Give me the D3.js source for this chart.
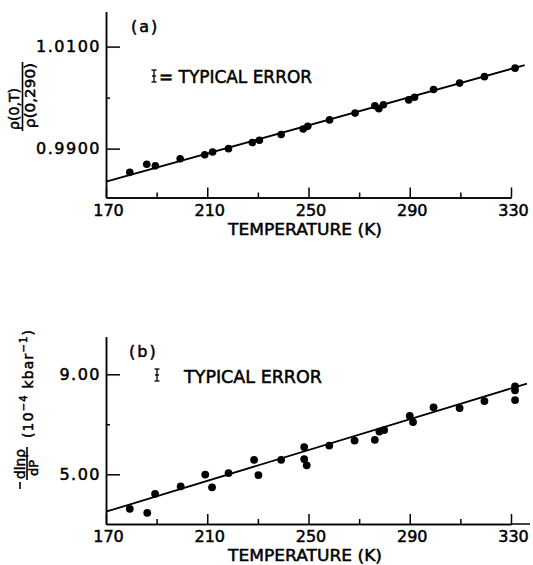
<!DOCTYPE html>
<html>
<head>
<meta charset="utf-8">
<script src="https://cdn.jsdelivr.net/npm/d3@7"></script>
<style>
  body { margin: 0; background: #fff; }
  svg { display: block; font-family: "DejaVu Sans", sans-serif; }
  /* the original lettering is heavier than a plain sans */
  svg text { stroke: #000; stroke-width: 0.5px; }
</style>
</head>
<body>
<svg id="chart" width="533" height="565"></svg>
<script>
// ---- panel (a): rho(0,T) / rho(0,290) vs temperature
const tempA  = [179.4, 186.1, 189.5, 199.3, 209.0, 212.1, 218.4, 227.8, 230.6, 239.2, 247.9, 249.7,
                258.3, 268.4, 276.2, 277.8, 279.6, 289.6, 291.9, 299.4, 309.7, 319.5, 331.6];
const ratioA = [0.98535, 0.98694, 0.98662, 0.98801, 0.98881, 0.98933, 0.99000, 0.99119, 0.99165,
                0.99278, 0.99384, 0.99437, 0.99563, 0.99696, 0.99841, 0.99781, 0.99861, 0.99955,
                1.00006, 1.00159, 1.00284, 1.00411, 1.00577];
const fitA   = [[170, 0.98351], [335.4, 1.00636]];

// ---- panel (b): -dln(rho)/dP (10^-4 kbar^-1) vs temperature
const tempB  = [179.4, 186.3, 189.4, 199.5, 209.2, 211.9, 218.4, 228.5, 230.2, 239.2, 248.3, 248.3, 249.3,
                258.2, 268.2, 276.2, 278.0, 279.9, 290.0, 291.3, 299.4, 309.7, 319.5, 331.6, 331.6, 331.6];
const slopeB = [3.62, 3.46, 4.22, 4.52, 4.99, 4.48, 5.05, 5.58, 4.97, 5.58, 6.09, 5.61, 5.36,
                6.15, 6.35, 6.38, 6.71, 6.77, 7.34, 7.09, 7.68, 7.65, 7.93, 8.52, 8.36, 7.97];
const fitB   = [[170, 3.503], [336.3, 8.629]];

// ---- axes
const tempDomain = [170, 330];
const tempMajor  = [170, 210, 250, 290, 330];
const tempMinor  = [190, 230, 270, 310];
const axisEndB   = 337.5;

const domainA = [0.98042, 1.01684];
const majorA  = [0.9900, 1.0100];
const minorA  = [1.0000];

const domainB = [3.012, 10.504];
const majorB  = [5.00, 9.00];
const minorB  = [7.00];

const svg = d3.select('#chart');
svg.append('rect').attr('width', 533).attr('height', 565).attr('fill', '#fff');

const x = d3.scaleLinear().domain(tempDomain).range([106, 511]);
const yA = d3.scaleLinear().domain(domainA).range([197.5, 11.7]);
const yB = d3.scaleLinear().domain(domainB).range([524, 336.7]);

function styleAxis(g) {
    g.attr('font-family', null).attr('font-size', 16);
    g.selectAll('path, line').attr('stroke', '#000').attr('stroke-width', 1.5);
    g.selectAll('text').attr('fill', '#000');
}

function drawPanel(y, fmt, major, minor, temps, vals, fit, dotR) {
    const bottom = y.range()[0];
    const g = svg.append('g');

    // x axis, ticks point up into the plot
    g.append('g')
        .attr('transform', `translate(0,${bottom})`)
        .call(d3.axisBottom(x).tickValues(tempMajor).tickSize(-10).tickSizeOuter(0)
            .tickPadding(7).tickFormat(d3.format('d')))
        .call(styleAxis)
        .selectAll('text').attr('dx', 2);
    g.append('g')
        .attr('transform', `translate(0,${bottom})`)
        .call(d3.axisBottom(x).tickValues(tempMinor).tickSize(-5).tickSizeOuter(0).tickFormat(''))
        .call(styleAxis);

    // y axis, ticks point right
    g.append('g')
        .attr('transform', 'translate(106,0)')
        .call(d3.axisLeft(y).tickValues(major).tickSize(-14).tickSizeOuter(0)
            .tickPadding(5).tickFormat(d3.format(fmt)))
        .call(styleAxis)
        .selectAll('text').attr('letter-spacing', 1.5);
    g.append('g')
        .attr('transform', 'translate(106,0)')
        .call(d3.axisLeft(y).tickValues(minor).tickSize(-4).tickSizeOuter(0).tickFormat(''))
        .call(styleAxis);

    // fitted line
    const line = d3.line().x(d => x(d[0])).y(d => y(d[1]));
    g.append('path')
        .attr('d', line(fit))
        .attr('fill', 'none')
        .attr('stroke', '#000')
        .attr('stroke-width', 1.8);

    g.append('g')
        .selectAll('circle')
        .data(d3.zip(temps, vals))
        .join('circle')
            .attr('cx', d => x(d[0]))
            .attr('cy', d => y(d[1]))
            .attr('r', dotR)
            .attr('fill', '#000');

    return g;
}

const gA = drawPanel(yA, '.4f', majorA, minorA, tempA, ratioA, fitA, 3.8);
const gB = drawPanel(yB, '.2f', majorB, minorB, tempB, slopeB, fitB, 3.9);

// panel (b) x axis runs a little past 330
gB.append('line')
    .attr('x1', x(330)).attr('x2', x(axisEndB))
    .attr('y1', yB.range()[0]).attr('y2', yB.range()[0])
    .attr('stroke', '#000').attr('stroke-width', 1.5);

// x titles
[[gA, 235], [gB, 561]].forEach(([g, yy]) => {
    g.append('text')
        .attr('x', 228).attr('y', yy)
        .attr('font-size', 16)
        .attr('textLength', 154)
        .attr('lengthAdjust', 'spacingAndGlyphs')
        .text('TEMPERATURE  (K)');
});

// panel letters
gA.append('text').attr('x', 131).attr('y', 32).attr('font-size', 16)
    .attr('letter-spacing', 2).text('(a)');
gB.append('text').attr('x', 129).attr('y', 357).attr('font-size', 16)
    .attr('letter-spacing', 2).text('(b)');

// typical error glyph
function errGlyph(g, cx, y0, y1) {
    const e = g.append('g').attr('stroke', '#000').attr('stroke-width', 1.3);
    e.append('line').attr('x1', cx).attr('x2', cx).attr('y1', y0).attr('y2', y1);
    e.append('line').attr('x1', cx - 2.5).attr('x2', cx + 2.5).attr('y1', y0).attr('y2', y0);
    e.append('line').attr('x1', cx - 2.5).attr('x2', cx + 2.5).attr('y1', y1).attr('y2', y1);
    e.append('line').attr('x1', cx - 2).attr('x2', cx + 2).attr('y1', (y0 + y1) / 2).attr('y2', (y0 + y1) / 2);
}
errGlyph(gA, 154, 70, 82);
gA.append('text').attr('x', 159).attr('y', 82.5).attr('font-size', 18)
    .attr('textLength', 153).attr('lengthAdjust', 'spacingAndGlyphs')
    .text('= TYPICAL  ERROR');
errGlyph(gB, 157, 369, 381);
gB.append('text').attr('x', 184).attr('y', 382.5).attr('font-size', 18)
    .attr('textLength', 138).attr('lengthAdjust', 'spacingAndGlyphs')
    .text('TYPICAL  ERROR');

// y title (a): rho(0,T) over rho(0,290), rotated
const labA = gA.append('g').attr('transform', 'translate(0,131) rotate(-90)');
labA.append('text').attr('x', 1).attr('y', 19).attr('font-size', 14)
    .attr('textLength', 42).attr('lengthAdjust', 'spacingAndGlyphs')
    .text('ρ(0,T)');
labA.append('line').attr('x1', 0).attr('x2', 69).attr('y1', 22.5).attr('y2', 22.5)
    .attr('stroke', '#000').attr('stroke-width', 1.6);
labA.append('text').attr('x', 3).attr('y', 35).attr('font-size', 14)
    .attr('textLength', 65).attr('lengthAdjust', 'spacingAndGlyphs')
    .text('ρ(0,290)');

// y title (b): -dln(rho)/dP (10^-4 kbar^-1), rotated
const labB = gB.append('g').attr('transform', 'translate(0,489) rotate(-90)');
labB.append('line').attr('x1', 0).attr('x2', 7).attr('y1', 20).attr('y2', 20)
    .attr('stroke', '#000').attr('stroke-width', 1.6);
labB.append('text').attr('x', 10).attr('y', 25).attr('font-size', 14)
    .attr('textLength', 30).attr('lengthAdjust', 'spacingAndGlyphs')
    .text('dlnρ');
labB.append('line').attr('x1', 9).attr('x2', 42).attr('y1', 27).attr('y2', 27)
    .attr('stroke', '#000').attr('stroke-width', 1.6);
labB.append('text').attr('x', 13).attr('y', 37.5).attr('font-size', 13)
    .text('dP');
const unitB = labB.append('text').attr('x', 51).attr('y', 33).attr('font-size', 14)
    .attr('textLength', 108).attr('lengthAdjust', 'spacing');
unitB.append('tspan').text('(10');
unitB.append('tspan').attr('baseline-shift', '6').attr('font-size', 10).text('−4');
unitB.append('tspan').text('  kbar');
unitB.append('tspan').attr('baseline-shift', '6').attr('font-size', 10).text('−1');
unitB.append('tspan').text(')');
</script>
</body>
</html>
